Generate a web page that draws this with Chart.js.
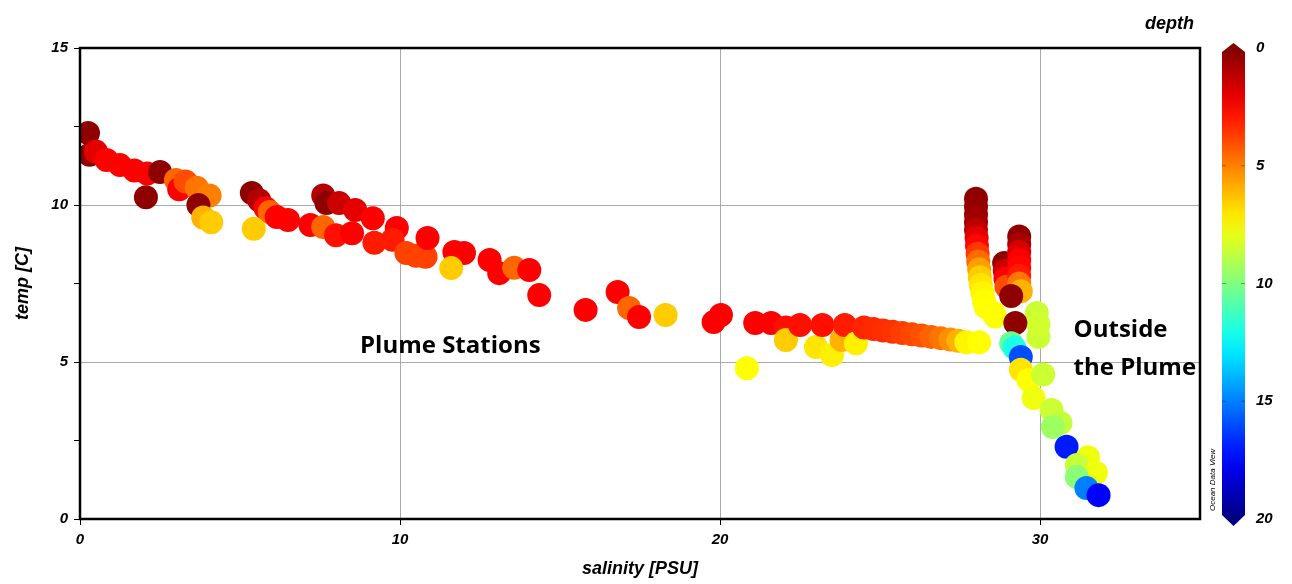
<!DOCTYPE html>
<html lang="en">
<head>
    <meta charset="UTF-8">
    <title>Temperature vs Salinity</title>
    <script src="https://cdn.jsdelivr.net/npm/chart.js"></script>
    <style>
        body {
            margin: 0;
            background: white;
        }
        #wrap {
            width: 1292px;
            height: 584px;
        }
    </style>
</head>
<body>
    <div id="wrap"><canvas id="tsChart" width="1292" height="584"></canvas></div>
    <script>
        // salinity [PSU], temp [C], depth for each sample
        const salinity = [
            0.25, 0.3, 0.5, 0.83, 1.25, 1.7, 2.1, 2.5, 2.06, 3.0, 3.1, 3.3, 3.65, 4.05, 3.7, 3.85, 4.1,
            5.37, 5.6, 5.8, 5.93, 6.15, 6.5, 5.43, 7.2, 7.6, 7.7, 8.1, 8.6, 9.15, 7.6, 8.0, 8.5, 9.2,
            9.9, 9.77, 10.2, 10.5, 10.8, 10.86, 11.7, 12.0, 11.6, 12.8, 13.1, 13.57, 14.04, 14.35,
            15.8, 16.8, 17.16, 17.47, 18.3, 19.8, 20.03, 20.84, 21.1, 21.6, 22.06, 22.06, 22.5, 23.0,
            23.2, 23.5, 23.8, 23.9, 24.25,
            24.5, 24.8, 25.1, 25.4, 25.7, 26.0, 26.3, 26.6, 26.9, 27.2, 27.45, 27.7, 28.1,
            28.0, 28.0, 28.0, 28.0, 28.0, 28.02, 28.03, 28.05, 28.07, 28.1, 28.12, 28.15, 28.2, 28.25, 28.3, 28.6,
            28.88, 28.9, 28.92, 28.95,
            29.35, 29.35, 29.35, 29.35, 29.35, 29.35, 29.35, 29.4,
            29.9, 29.95, 29.95, 28.55, 29.1, 29.23,
            29.1, 29.2, 29.4, 29.4, 29.64, 30.1, 29.8, 30.36, 30.64, 30.4, 30.83,
            31.5, 31.15, 31.75, 31.15, 31.45, 31.83
        ];
        const temp = [
            12.29, 11.6, 11.7, 11.43, 11.27, 11.1, 11.0, 11.05, 10.25, 10.8, 10.5, 10.75, 10.55, 10.3, 10.0, 9.6, 9.45,
            10.38, 10.15, 9.9, 9.78, 9.62, 9.52, 9.24, 9.36, 10.3, 10.06, 10.06, 9.84, 9.58, 9.3, 9.04, 9.1, 8.8,
            9.27, 8.89, 8.47, 8.38, 8.35, 8.95, 8.5, 8.47, 7.99, 8.25, 7.83, 8.0, 7.93, 7.13,
            6.66, 7.23, 6.72, 6.43, 6.5, 6.27, 6.5, 4.8, 6.24, 6.24, 6.1, 5.7, 6.18, 5.48,
            6.18, 5.22, 5.7, 6.18, 5.6,
            6.1, 6.05, 6.0, 5.96, 5.92, 5.88, 5.84, 5.8, 5.76, 5.72, 5.68, 5.63, 5.63,
            10.2, 9.95, 9.7, 9.45, 9.2, 8.95, 8.7, 8.45, 8.2, 7.95, 7.7, 7.45, 7.2, 6.95, 6.75, 6.45,
            8.15, 7.9, 7.65, 7.4,
            9.0, 8.75, 8.5, 8.25, 8.0, 7.75, 7.5, 7.25,
            6.56, 5.8, 6.2, 6.56, 7.1, 6.24,
            5.6, 5.45, 5.16, 4.75, 4.43, 4.6, 3.85, 3.47, 3.06, 2.93, 2.3,
            1.97, 1.72, 1.47, 1.34, 0.99, 0.76
        ];
        const depth = [
            0.3, 0.3, 2, 2.5, 2.5, 2.5, 2.5, 0.3, 0.3, 4.5, 2.5, 4, 4.8, 5, 0.3, 6, 6.5,
            0.3, 1, 2.5, 4.5, 2.5, 2.5, 6.5, 2.5, 1, 0.3, 1.5, 2, 2.5, 4.5, 2.8, 2.5, 3,
            2.5, 3, 3.8, 3.8, 3.8, 2.5, 2.5, 2.5, 6.5, 2.5, 2.5, 4.5, 2.5, 2.5,
            2.5, 2.5, 4.5, 2.5, 6.5, 2.5, 2.5, 7.5, 2.5, 2.5, 2.8, 6.5, 2.8, 7,
            2.8, 7.2, 6, 3, 7.2,
            3.2, 3.3, 3.4, 3.5, 3.7, 3.9, 4.1, 4.4, 4.8, 5.3, 6, 7.3, 7.5,
            0.3, 0.4, 0.5, 0.7, 1.2, 2, 2.6, 3.6, 4.6, 5.6, 6.5, 7, 7.3, 7.5, 7.5, 7.6,
            0.3, 1.5, 2.5, 4,
            0.3, 0.8, 1.8, 2.4, 2.6, 3, 4.8, 6,
            8.5, 8.5, 8.4, 7.5, 0.3, 0.3,
            10.5, 12, 16, 7, 7.5, 8.5, 7.8, 8.5, 8.7, 9.4, 17,
            7.8, 8.6, 7.8, 9.8, 15, 17.5
        ];
        const xTicks = [0, 10, 20, 30];
        const yTicks = [0, 5, 10, 15];
        const depthTicks = [0, 5, 10, 15, 20];

        // jet colour map, depth 0 = dark red, depth 20 = dark blue
        function jet(d) {
            let t = 1 - d / 20;
            let c = v => Math.round(255 * Math.max(0, Math.min(1, v)));
            let r = c(1.5 - Math.abs(4 * t - 3));
            let g = c(1.5 - Math.abs(4 * t - 2));
            let b = c(1.5 - Math.abs(4 * t - 1));
            return `rgb(${r},${g},${b})`;
        }

        const points = salinity.map((s, i) => ({ x: s, y: temp[i] }));
        const colors = depth.map(jet);

        const axisFont = { family: "'Liberation Sans', Arial", size: 15, weight: "bold", style: "italic" };
        const titleFont = { family: "'Liberation Sans', Arial", size: 18, weight: "bold", style: "italic" };
        const noteFont = "bold 24px 'Open Sans', 'Noto Sans', sans-serif";

        const extras = {
            id: "extras",
            afterDraw(chart) {
                let ctx = chart.ctx;
                let a = chart.chartArea;
                let x = chart.scales.x, y = chart.scales.y, d = chart.scales.depth;
                ctx.save();

                // frame
                ctx.strokeStyle = "#000";
                ctx.lineWidth = 2.5;
                ctx.strokeRect(a.left, a.top, a.right - a.left, a.bottom - a.top);

                // notes
                ctx.fillStyle = "#000";
                ctx.font = noteFont;
                ctx.textBaseline = "alphabetic";
                ctx.textAlign = "left";
                ctx.fillText("Plume Stations", x.getPixelForValue(8.75), y.getPixelForValue(5.3));
                ctx.fillText("Outside", x.getPixelForValue(31.05), y.getPixelForValue(5.8));
                ctx.fillText("the Plume", x.getPixelForValue(31.05), y.getPixelForValue(4.6));

                // colour bar
                let bx = 1222, bw = 23;
                let top = d.getPixelForValue(0), bot = d.getPixelForValue(20);
                let grad = ctx.createLinearGradient(0, top, 0, bot);
                for (let k = 0; k <= 20; k++) grad.addColorStop(k / 20, jet(k));
                ctx.fillStyle = grad;
                ctx.beginPath();
                ctx.moveTo(bx, top + 4);
                ctx.lineTo(bx + bw / 2, top - 5);
                ctx.lineTo(bx + bw, top + 4);
                ctx.lineTo(bx + bw, bot - 4);
                ctx.lineTo(bx + bw / 2, bot + 7);
                ctx.lineTo(bx, bot - 4);
                ctx.closePath();
                ctx.fill();
                ctx.strokeStyle = "rgba(0,0,0,0.35)";
                ctx.lineWidth = 1;
                depthTicks.slice(1, -1).forEach(v => {
                    let py = d.getPixelForValue(v);
                    ctx.beginPath();
                    ctx.moveTo(bx, py); ctx.lineTo(bx + 4, py);
                    ctx.moveTo(bx + bw - 4, py); ctx.lineTo(bx + bw, py);
                    ctx.stroke();
                });

                ctx.fillStyle = "#000";
                ctx.font = "bold italic 18px 'Liberation Sans', Arial";
                ctx.textAlign = "right";
                ctx.fillText("depth", 1194, 29);

                ctx.translate(1215, bot - 8);
                ctx.rotate(-Math.PI / 2);
                ctx.font = "italic 8px 'Liberation Sans', Arial";
                ctx.textAlign = "left";
                ctx.fillText("Ocean Data View", 0, 0);
                ctx.restore();
            }
        };

        new Chart(document.getElementById("tsChart"), {
            type: "scatter",
            data: {
                datasets: [{
                    data: points,
                    pointRadius: 12,
                    pointHoverRadius: 12,
                    pointBorderWidth: 0,
                    pointBackgroundColor: colors,
                    pointBorderColor: colors,
                    clip: 0
                }]
            },
            options: {
                responsive: false,
                animation: false,
                layout: { padding: { top: 48, left: 0, right: 0, bottom: 0 } },
                plugins: {
                    legend: { display: false },
                    tooltip: { enabled: false }
                },
                scales: {
                    x: {
                        type: "linear",
                        min: 0,
                        max: 35,
                        afterBuildTicks: s => { s.ticks = xTicks.map(v => ({ value: v })); },
                        afterFit: s => { s.height = 65; s.paddingLeft = 0; s.paddingRight = 0; },
                        grid: { color: "#aaa", tickColor: "#000", tickLength: 6 },
                        border: { display: false },
                        ticks: { color: "#000", font: axisFont, padding: 6, maxRotation: 0 },
                        title: { display: true, text: "salinity [PSU]", color: "#000", font: titleFont, padding: { bottom: 4 } }
                    },
                    y: {
                        type: "linear",
                        min: 0,
                        max: 15,
                        afterBuildTicks: s => {
                            s.ticks = [0, 2.5, 5, 7.5, 10, 12.5, 15].map(v => ({ value: v }));
                        },
                        afterFit: s => { s.width = 80; s.paddingTop = 0; s.paddingBottom = 0; },
                        grid: {
                            color: c => (yTicks.includes(c.tick.value) ? "#aaa" : "rgba(0,0,0,0)"),
                            tickColor: "#000",
                            tickLength: 6
                        },
                        border: { display: false },
                        ticks: {
                            color: "#000",
                            font: axisFont,
                            padding: 6,
                            callback: v => (yTicks.includes(v) ? String(v) : "")
                        },
                        title: { display: true, text: "temp [C]", color: "#000", font: titleFont, padding: { top: 12 } }
                    },
                    depth: {
                        type: "linear",
                        position: "right",
                        reverse: true,
                        min: 0,
                        max: 20,
                        afterBuildTicks: s => { s.ticks = depthTicks.map(v => ({ value: v })); },
                        afterFit: s => { s.width = 92; s.paddingTop = 0; s.paddingBottom = 0; },
                        grid: { display: false, drawTicks: false },
                        border: { display: false },
                        ticks: { color: "#000", font: axisFont, padding: 56 }
                    }
                }
            },
            plugins: [extras]
        });
    </script>
</body>
</html>
